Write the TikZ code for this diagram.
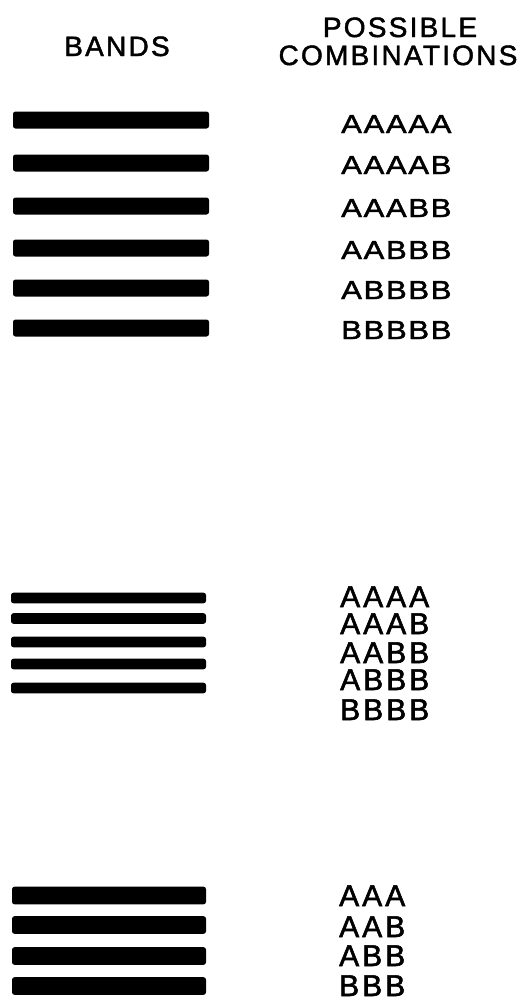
\documentclass[tikz,border=0pt]{standalone}
\usepackage{fontspec}
\setmainfont{Liberation Sans}
\begin{document}
\begin{tikzpicture}[x=1pt,y=-1pt,
  bar/.style={fill=black,rounded corners=2.5pt},
  head/.style={inner sep=0pt,anchor=base,font=\fontsize{28}{30}\selectfont\addfontfeature{LetterSpace=8,FakeBold=1.6}},
  comboA/.style={inner sep=0pt,anchor=base west,font=\fontsize{26}{28}\selectfont\addfontfeature{LetterSpace=6,FakeStretch=1.2,FakeBold=1.8}},
  comboB/.style={inner sep=0pt,anchor=base west,font=\fontsize{30}{32}\selectfont\addfontfeature{LetterSpace=10,FakeBold=1.8}}]
\useasboundingbox[fill=white] (0,0) rectangle (530,1001);
% headers
\node[head] (bands) at (117,56) {BANDS};
\node[head] (poss) at (400,37) {POSSIBLE};
\node[head] (comb) at (398,65) {COMBINATIONS};
% group 1 bars
\foreach \c in {120,163,206,248,288,328}
  \fill[bar] (13,\c-8.5) rectangle (209,\c+8.5);
% group 1 text
\node[comboA] (g1a) at (341,133) {AAAAA};
\node[comboA] (g1b) at (341,174) {AAAAB};
\node[comboA] (g1c) at (341,217) {AAABB};
\node[comboA] (g1d) at (341,259) {AABBB};
\node[comboA] (g1e) at (341,299) {ABBBB};
\node[comboA] (g1f) at (341,339) {BBBBB};
% group 2 bars
\foreach \c in {598,618.5,642,664,688}
  \fill[bar] (11,\c-5.3) rectangle (206,\c+5.3);
% group 2 text
\node[comboB] (g2a) at (340,607) {AAAA};
\node[comboB] (g2b) at (340,634) {AAAB};
\node[comboB] (g2c) at (340,663) {AABB};
\node[comboB] (g2d) at (340,690) {ABBB};
\node[comboB] (g2e) at (340,720) {BBBB};
% group 3 bars
\foreach \c in {895.5,925,956,986}
  \fill[bar] (12,\c-8.8) rectangle (206,\c+8.8);
% group 3 text
\node[comboB] (g3a) at (339,906) {AAA};
\node[comboB] (g3b) at (339,937) {AAB};
\node[comboB] (g3c) at (339,966) {ABB};
\node[comboB] (g3d) at (339,996) {BBB};
\end{tikzpicture}
\end{document}
